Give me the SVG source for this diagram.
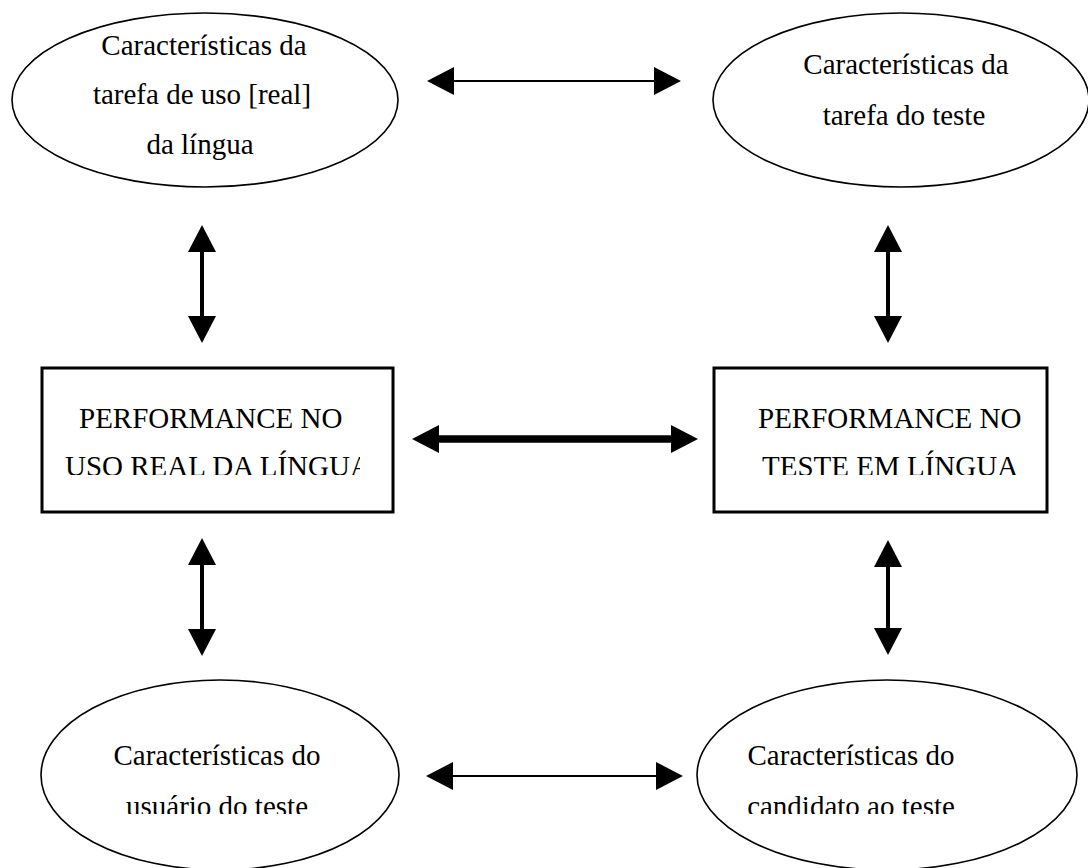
<svg xmlns="http://www.w3.org/2000/svg" width="1088" height="868" viewBox="0 0 1088 868">
<style>
.bg{fill:#fff}
.ell{fill:#fff;stroke:#000;stroke-width:1.6}
.box{fill:#fff;stroke:#000;stroke-width:3}
.t{font-family:"Liberation Serif","Times New Roman",serif;font-size:29px;fill:#000}
.tb{font-family:"Liberation Serif","Times New Roman",serif;font-size:29px;fill:#000}
.c{text-anchor:middle}
.thin{stroke:#000;stroke-width:2.2;fill:none}
.vert{stroke:#000;stroke-width:4;fill:none}
.thick{stroke:#000;stroke-width:7.5;fill:none}
</style>
<defs>
<marker id="ah" markerUnits="userSpaceOnUse" markerWidth="28" markerHeight="28" refX="0" refY="14" orient="auto-start-reverse" viewBox="0 0 28 28">
<path d="M0,0 L27,14 L0,28 Z" fill="#000"/>
</marker>
<clipPath id="clipL"><rect x="42" y="368" width="318" height="107"/></clipPath>
<clipPath id="clipR"><rect x="714" y="368" width="333" height="107"/></clipPath>
<clipPath id="clipB"><rect x="0" y="680" width="1088" height="134"/></clipPath>
</defs>
<rect class="bg" x="0" y="0" width="1088" height="868"/>

<g id="connectors">
<line class="thin" x1="454" y1="81" x2="654" y2="81" marker-start="url(#ah)" marker-end="url(#ah)"/>
<line class="thick" x1="439" y1="439" x2="671" y2="439" marker-start="url(#ah)" marker-end="url(#ah)"/>
<line class="thin" x1="453" y1="776" x2="656" y2="776" marker-start="url(#ah)" marker-end="url(#ah)"/>
<line class="vert" x1="202" y1="252" x2="202" y2="316" marker-start="url(#ah)" marker-end="url(#ah)"/>
<line class="vert" x1="202" y1="565" x2="202" y2="629" marker-start="url(#ah)" marker-end="url(#ah)"/>
<line class="vert" x1="888" y1="252" x2="888" y2="316" marker-start="url(#ah)" marker-end="url(#ah)"/>
<line class="vert" x1="888" y1="567" x2="888" y2="628" marker-start="url(#ah)" marker-end="url(#ah)"/>
</g>

<g id="node-tarefa-uso">
<ellipse class="ell" cx="205" cy="100" rx="193" ry="87"/>
<text class="t c" x="204" y="55">Características da</text>
<text class="t c" x="202" y="104">tarefa de uso [real]</text>
<text class="t c" x="200" y="154">da língua</text>
</g>

<g id="node-tarefa-teste">
<ellipse class="ell" cx="901" cy="100" rx="188" ry="87"/>
<text class="t c" x="906" y="74">Características da</text>
<text class="t c" x="904" y="125">tarefa do teste</text>
</g>

<g id="node-performance-uso">
<rect class="box" x="42" y="368" width="351" height="144"/>
<g clip-path="url(#clipL)">
<text class="tb" x="79" y="428">PERFORMANCE NO</text>
<text class="tb" x="65" y="476">USO REAL DA LÍNGUA</text>
</g>
</g>

<g id="node-performance-teste">
<rect class="box" x="714" y="368" width="333" height="144"/>
<g clip-path="url(#clipR)">
<text class="tb" x="758" y="428">PERFORMANCE NO</text>
<text class="tb" x="762" y="476">TESTE EM LÍNGUA</text>
</g>
</g>

<g id="node-usuario">
<ellipse class="ell" cx="220" cy="775" rx="179" ry="95"/>
<g clip-path="url(#clipB)">
<text class="t c" x="217" y="765">Características do</text>
<text class="t c" x="217" y="816">usuário do teste</text>
</g>
</g>

<g id="node-candidato">
<ellipse class="ell" cx="887" cy="775" rx="190" ry="95"/>
<g clip-path="url(#clipB)">
<text class="t c" x="851" y="765">Características do</text>
<text class="t c" x="851" y="816">candidato ao teste</text>
</g>
</g>
</svg>
